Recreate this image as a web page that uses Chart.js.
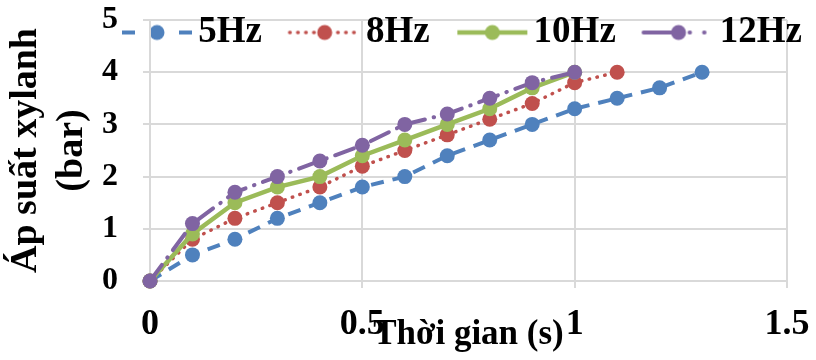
<!DOCTYPE html>
<html>
<head>
<meta charset="utf-8">
<script src="https://cdn.jsdelivr.net/npm/chart.js@4.4.1/dist/chart.umd.min.js"></script>
<style>
  html, body { margin: 0; padding: 0; background: #fff; }
  #wrap { width: 816px; height: 360px; }
</style>
</head>
<body>
<div id="wrap"><canvas id="pressureChart" width="816" height="360"></canvas></div>
<script>
(function () {
  'use strict';

  // time axis (s), shared by all series (each one stops earlier)
  var timeS = [0, 0.1, 0.2, 0.3, 0.4, 0.5, 0.6, 0.7, 0.8, 0.9, 1.0, 1.1, 1.2, 1.3];

  // cylinder pressure (bar) per pump frequency
  var p5Hz  = [0, 0.5, 0.8, 1.2, 1.5, 1.8, 2.0, 2.4, 2.7, 3.0, 3.3, 3.5, 3.7, 4.0];
  var p8Hz  = [0, 0.8, 1.2, 1.5, 1.8, 2.2, 2.5, 2.8, 3.1, 3.4, 3.8, 4.0];
  var p10Hz = [0, 0.9, 1.5, 1.8, 2.0, 2.4, 2.7, 3.0, 3.3, 3.7, 4.0];
  var p12Hz = [0, 1.1, 1.7, 2.0, 2.3, 2.6, 3.0, 3.2, 3.5, 3.8, 4.0];

  var seriesNames = ['5Hz', '8Hz', '10Hz', '12Hz'];
  var xTicks = [0, 0.5, 1, 1.5];
  var yTicks = [0, 1, 2, 3, 4, 5];

  var FONT = 'Liberation Serif';
  var GRID = '#d9d9d9';

  var styles = [
    { color: '#4F81BD', width: 4,   dash: [13, 9],          cap: 'butt',  legendDash: [13, 44] },
    { color: '#C0504D', width: 3.5, dash: [0.5, 7.5],       cap: 'round', legendDash: [0.5, 7.5] },
    { color: '#9BBB59', width: 4.5, dash: [],               cap: 'butt',  legendDash: [] },
    { color: '#8064A2', width: 4,   dash: [20, 9, 0.5, 9],  cap: 'round', legendDash: [38, 8, 0.5, 14, 0.5, 30] }
  ];

  var toPoints = function (vals) {
    return vals.map(function (v, i) { return { x: timeS[i], y: v }; });
  };

  // little line+marker sample used as the legend symbol
  var legendIcon = function (st) {
    var c = document.createElement('canvas');
    c.width = 98;
    c.height = 30;
    var g = c.getContext('2d');
    g.strokeStyle = st.color;
    g.lineWidth = st.width;
    g.lineCap = st.cap;
    g.setLineDash(st.legendDash);
    g.beginPath();
    g.moveTo(27, 15);
    g.lineTo(97, 15);
    g.stroke();
    g.setLineDash([]);
    g.fillStyle = st.color;
    g.beginPath();
    g.arc(62, 15, 7.5, 0, Math.PI * 2);
    g.fill();
    return c;
  };

  var allValues = [p5Hz, p8Hz, p10Hz, p12Hz];
  var datasets = allValues.map(function (vals, i) {
    var st = styles[i];
    return {
      label: seriesNames[i],
      data: toPoints(vals),
      borderColor: st.color,
      backgroundColor: st.color,
      borderWidth: st.width,
      borderDash: st.dash,
      borderCapStyle: st.cap,
      pointRadius: 7.5,
      pointBorderWidth: 0,
      pointBackgroundColor: st.color,
      tension: 0,
      clip: false,
      order: allValues.length - i   // later series painted on top, like Excel
    };
  });

  // legend sits over the plot top instead of pushing it down
  var legendOverlap = {
    id: 'legendOverlap',
    beforeInit: function (chart) {
      var legend = chart.legend;
      var fit = legend.fit;
      legend.fit = function () {
        fit.call(this);
        this.height = 0;
      };
      legend.draw = function () {
        var c = this.ctx;
        c.save();
        c.translate(0, -this.top);
        this._draw();
        c.restore();
      };
    }
  };

  var config = {
    type: 'line',
    data: { datasets: datasets },
    plugins: [legendOverlap],
    options: {
      responsive: false,
      animation: false,
      layout: { padding: { top: 20, left: 0, right: 0, bottom: 0 } },
      plugins: {
        tooltip: { enabled: false },
        legend: {
          position: 'top',
          align: 'end',
          labels: {
            usePointStyle: true,
            pointStyleWidth: 71.5,
            padding: 14,
            color: '#000',
            font: { family: FONT, size: 37, weight: 'bold' },
            generateLabels: function (chart) {
              return chart.data.datasets.map(function (ds, i) {
                return {
                  text: ds.label,
                  pointStyle: legendIcon(styles[i]),
                  fillStyle: ds.borderColor,
                  strokeStyle: ds.borderColor,
                  lineWidth: 0,
                  fontColor: '#000',
                  hidden: false,
                  datasetIndex: i
                };
              });
            }
          }
        }
      },
      scales: {
        x: {
          type: 'linear',
          min: 0,
          max: 1.5,
          afterBuildTicks: function (scale) {
            scale.ticks = xTicks.map(function (v) { return { value: v }; });
          },
          afterFit: function (scale) {
            scale.height = 79;
            scale.paddingRight = 29;
          },
          grid: { color: GRID, lineWidth: 2, tickLength: 7, drawTicks: true },
          border: { color: GRID, width: 2 },
          ticks: {
            color: '#000',
            padding: 15,
            maxRotation: 0,
            font: { family: FONT, size: 36, weight: 'bold' },
            callback: function (v) { return String(v); }
          },
          title: {
            display: true,
            text: 'Thời gian (s)',
            color: '#000',
            font: { family: FONT, size: 35, weight: 'bold' },
            padding: { top: 0, bottom: 4 }
          }
        },
        y: {
          type: 'linear',
          min: 0,
          max: 5,
          afterBuildTicks: function (scale) {
            scale.ticks = yTicks.map(function (v) { return { value: v }; });
          },
          afterFit: function (scale) {
            scale.width = 150;
            scale.paddingTop = 0;
          },
          grid: { color: GRID, lineWidth: 2, tickLength: 7, drawTicks: true },
          border: { color: GRID, width: 2 },
          ticks: {
            color: '#000',
            padding: 25,
            font: { family: FONT, size: 32, weight: 'bold' },
            callback: function (v) { return String(v); }
          },
          title: {
            display: true,
            text: ['Áp suất xylanh', '(bar)'],
            color: '#000',
            font: { family: FONT, size: 38, weight: 'bold', lineHeight: 1.22 },
            padding: { top: 3, bottom: 0 }
          }
        }
      }
    }
  };

  var ctx = document.getElementById('pressureChart').getContext('2d');
  window.pressureChart = new Chart(ctx, config);
})();
</script>
</body>
</html>
